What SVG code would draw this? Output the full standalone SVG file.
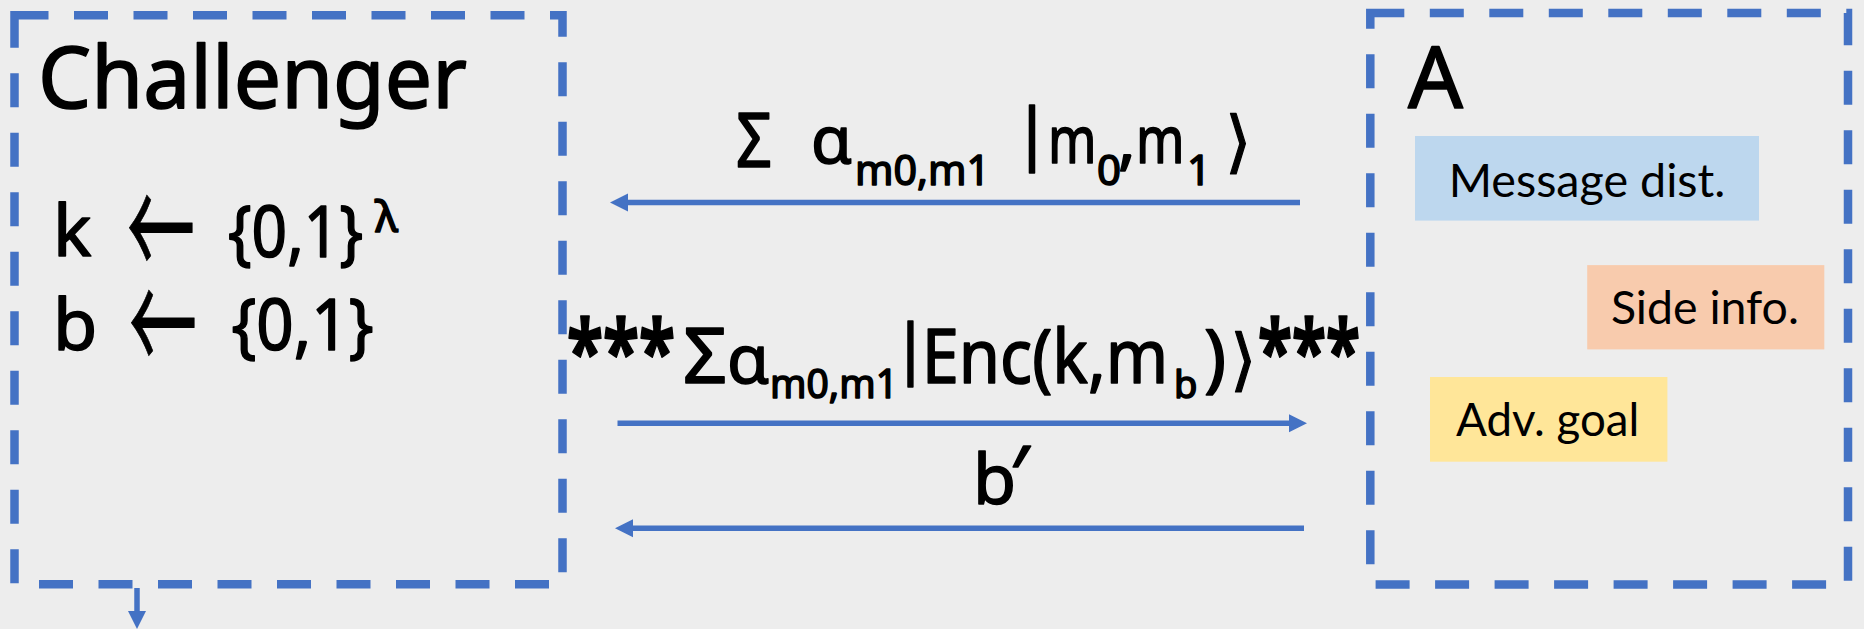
<svg xmlns="http://www.w3.org/2000/svg" width="1864" height="629" viewBox="0 0 1864 629">
<style>
.bg{fill:#EDEDED}
.dash{fill:none;stroke:#4472C4;stroke-width:8.5;stroke-dasharray:34 25.5}
.conn{stroke:#4472C4;stroke-width:5.5;fill:none}
.t{font-family:"Noto Sans","DejaVu Sans",sans-serif;fill:#000;stroke:#000;stroke-width:1.6;stroke-linejoin:round}
.sym{font-family:"DejaVu Sans","Noto Sans",sans-serif;fill:#000;stroke:#000;stroke-width:1.2;stroke-linejoin:round}
.arr{font-family:"Noto Sans CJK SC","DejaVu Sans",sans-serif;fill:#000;stroke:#000;stroke-width:0.6;font-size:90px}
.lab{font-family:Lato,"Liberation Sans",sans-serif;fill:#000;font-size:47px}
</style>
<defs>
<marker id="ah" markerUnits="userSpaceOnUse" markerWidth="20" markerHeight="20" viewBox="0 -10 20 20" refX="1" refY="0" orient="auto">
<path d="M0,-9 L18,0 L0,9 Z" fill="#4472C4"/>
</marker>
</defs>
<rect class="bg" x="0" y="0" width="1864" height="629"/>

<g id="challenger">
<rect class="dash" x="14.5" y="15.2" width="548" height="569"/>
<text class="t" x="38" y="108" font-size="86" textLength="429" lengthAdjust="spacingAndGlyphs">Challenger</text>
<text class="t" x="53" y="256" font-size="72">k</text>
<text class="arr" transform="translate(161,228) scale(1,1.55)" x="0" y="34" text-anchor="middle" textLength="68" lengthAdjust="spacingAndGlyphs">←</text>
<text class="t" x="228" y="256.5" font-size="72" textLength="135" lengthAdjust="spacingAndGlyphs">{0,1}</text>
<text class="t" x="375" y="231.5" font-size="44" stroke-width="0.8">λ</text>
<text class="t" x="53" y="350" font-size="72">b</text>
<text class="arr" transform="translate(163,323) scale(1,1.55)" x="0" y="34" text-anchor="middle" textLength="68" lengthAdjust="spacingAndGlyphs">←</text>
<text class="t" x="231.5" y="350" font-size="72" textLength="142" lengthAdjust="spacingAndGlyphs">{0,1}</text>
</g>

<g id="adversary">
<rect class="dash" x="1370.3" y="13" width="477.7" height="571.4"/>
<text class="t" x="1408" y="107.5" font-size="86">A</text>
<g id="msgdist">
<rect x="1415" y="136" width="344" height="84.6" fill="#BDD7EE"/>
<text class="lab" x="1448.7" y="196.5" textLength="276.6" lengthAdjust="spacingAndGlyphs">Message dist.</text>
</g>
<g id="sideinfo">
<rect x="1587.2" y="265.1" width="237.1" height="84.3" fill="#F8CBAD"/>
<text class="lab" x="1610.9" y="324.1" textLength="188" lengthAdjust="spacingAndGlyphs">Side info.</text>
</g>
<g id="advgoal">
<rect x="1430" y="377" width="237.4" height="84.7" fill="#FFE699"/>
<text class="lab" x="1456" y="436.4" textLength="183.3" lengthAdjust="spacingAndGlyphs">Adv. goal</text>
</g>
</g>

<g id="connectors">
<line class="conn" x1="1300" y1="202.5" x2="627" y2="202.5" marker-end="url(#ah)"/>
<line class="conn" x1="617.5" y1="423.3" x2="1290" y2="423.3" marker-end="url(#ah)"/>
<line class="conn" x1="1304" y1="528.3" x2="632" y2="528.3" marker-end="url(#ah)"/>
<line class="conn" x1="137" y1="588" x2="137" y2="612" marker-end="url(#ah)"/>
</g>

<g id="label1">
<text class="t" x="736" y="167" font-size="75" textLength="36" lengthAdjust="spacingAndGlyphs">Σ</text>
<text class="t" x="811" y="163" font-size="66">α</text>
<text class="t" x="855" y="185" font-size="42" stroke-width="1" textLength="135" lengthAdjust="spacingAndGlyphs">m0,m1</text>
<text class="t" x="1032" y="157" font-size="68" text-anchor="middle">|</text>
<text class="t" x="1048" y="163" font-size="66" textLength="48.5" lengthAdjust="spacingAndGlyphs">m</text>
<text class="t" x="1097" y="185" font-size="42" stroke-width="1">0</text>
<text class="t" x="1118" y="163" font-size="66">,</text>
<text class="t" x="1136" y="163" font-size="66" textLength="48.5" lengthAdjust="spacingAndGlyphs">m</text>
<text class="t" x="1187" y="185" font-size="42" stroke-width="1">1</text>
<text class="sym" x="1225" y="165" font-size="68">⟩</text>
</g>

<g id="label2">
<text class="t" x="567" y="383" font-size="88" font-weight="bold" stroke-width="0" textLength="108" lengthAdjust="spacingAndGlyphs">***</text>
<text class="t" x="683" y="383" font-size="77">Σ</text>
<text class="t" x="727" y="383" font-size="68">α</text>
<text class="t" x="770" y="398.3" font-size="40" stroke-width="1" textLength="128" lengthAdjust="spacingAndGlyphs">m0,m1</text>
<text class="t" x="910.5" y="370.5" font-size="66" text-anchor="middle">|</text>
<text class="t" x="921.7" y="383" font-size="74" textLength="246.6" lengthAdjust="spacingAndGlyphs">Enc(k,m</text>
<text class="t" x="1174" y="398.3" font-size="38" stroke-width="1">b</text>
<text class="t" x="1204" y="383" font-size="74">)</text>
<text class="sym" x="1230" y="383" font-size="68">⟩</text>
<text class="t" x="1258" y="383" font-size="88" font-weight="bold" stroke-width="0" textLength="102" lengthAdjust="spacingAndGlyphs">***</text>
</g>

<g id="label3">
<text class="t" x="973" y="504" font-size="70">b</text>
<text class="t" x="1010" y="504" font-size="80">′</text>
</g>
</svg>
